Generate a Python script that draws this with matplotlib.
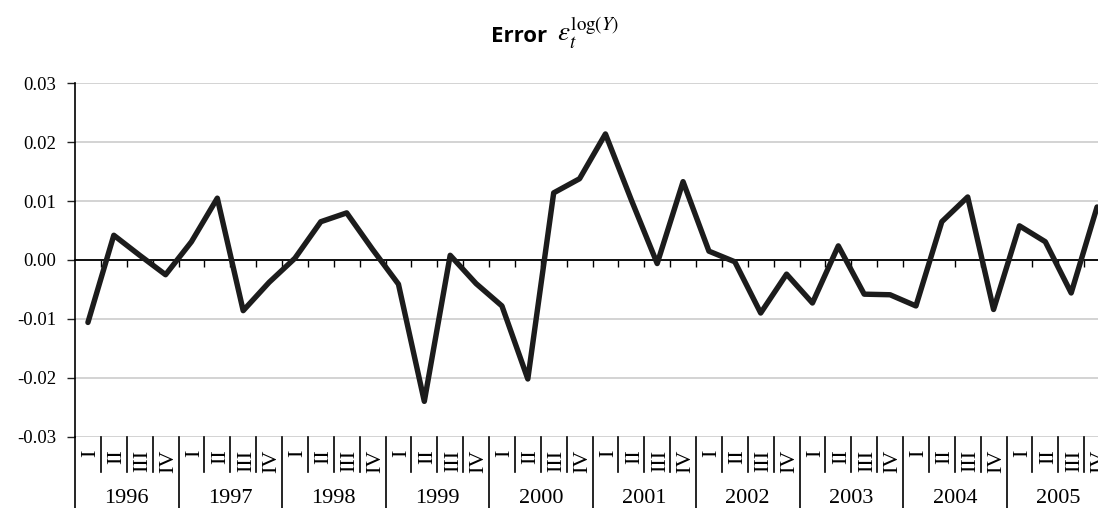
import matplotlib
matplotlib.use("Agg")
import matplotlib.pyplot as plt

# errores trimestrales del log(Y), 1996 I - 2005 IV
anios = ["1996", "1997", "1998", "1999", "2000", "2001", "2002", "2003", "2004", "2005"]
trimestres = ["I", "II", "III", "IV"]
errores = [-0.0106, 0.0042, 0.0008, -0.0025,
           0.0031, 0.0105, -0.0086, -0.0038,
           0.0003, 0.0065, 0.0080, 0.0018,
           -0.0041, -0.0240, 0.0008, -0.0040,
           -0.0078, -0.0202, 0.0114, 0.0138,
           0.0214, 0.0102, -0.0006, 0.0133,
           0.0015, -0.0003, -0.0090, -0.0024,
           -0.0073, 0.0024, -0.0058, -0.0059,
           -0.0078, 0.0065, 0.0107, -0.0084,
           0.0058, 0.0031, -0.0056, 0.0090]
y_ticks = [-0.03, -0.02, -0.01, 0.00, 0.01, 0.02, 0.03]
y_labels = ["-0.03", "-0.02", "-0.01", "0.00", "0.01", "0.02", "0.03"]

serif = "Liberation Serif"
n = len(errores)

fig = plt.figure(figsize=(10.98, 5.08), dpi=100)
ax = fig.add_axes([75 / 1098, 71.3 / 508, 1035 / 1098, 353.4 / 508])

ax.plot(range(n), errores, color="#1c1c1c", lw=3.9,
        solid_joinstyle="round", solid_capstyle="round", zorder=3)

ax.set_xlim(-0.5, n - 0.5)
ax.set_ylim(-0.03, 0.03)
ax.set_yticks(y_ticks)
ax.set_yticklabels(y_labels, fontfamily=serif, fontsize=13.5)
ax.yaxis.grid(True, color="#d0d0d0", lw=1.3)
ax.set_axisbelow(True)
ax.tick_params(axis="y", direction="out", length=5.5, width=1, pad=8, color="#222222")

# el eje de categorias cruza en cero
ax.spines["bottom"].set_position(("data", 0))
ax.spines["bottom"].set_linewidth(1.3)
ax.spines["left"].set_linewidth(1.2)
ax.spines["top"].set_visible(False)
ax.spines["right"].set_visible(False)
ax.set_xticks([i - 0.5 for i in range(1, n)])
ax.set_xticklabels([])
ax.tick_params(axis="x", direction="out", length=5, width=1, color="black")

# etiquetas de dos niveles debajo del grafico
trans = ax.get_xaxis_transform()
for k in range(n + 1):
    x = k - 0.5
    y_fin = -0.202 if k % 4 == 0 else -0.0999
    ax.plot([x, x], [0, y_fin], color="black", lw=1.2, transform=trans, clip_on=False)

for i in range(n):
    ax.text(i + 0.12, -0.036, trimestres[i % 4], transform=trans, rotation=90,
            rotation_mode="anchor", ha="right", va="center",
            fontfamily=serif, fontsize=16, clip_on=False)

for j, anio in enumerate(anios):
    ax.text(j * 4 + 1.5, -0.1865, anio, transform=trans, ha="center", va="baseline",
            fontfamily=serif, fontsize=16, clip_on=False)

# titulo
fig.text(547 / 1098, 1 - 41.7 / 508, "Error", ha="right", va="baseline",
         fontfamily="Open Sans", fontweight="bold", fontsize=16)
plt.rcParams["mathtext.fontset"] = "stix"
fig.text(557 / 1098, 1 - 41.7 / 508, r"$\varepsilon_t^{\log(Y)}$", ha="left", va="baseline",
         fontsize=19.5)

fig.savefig("out.png", dpi=100)
